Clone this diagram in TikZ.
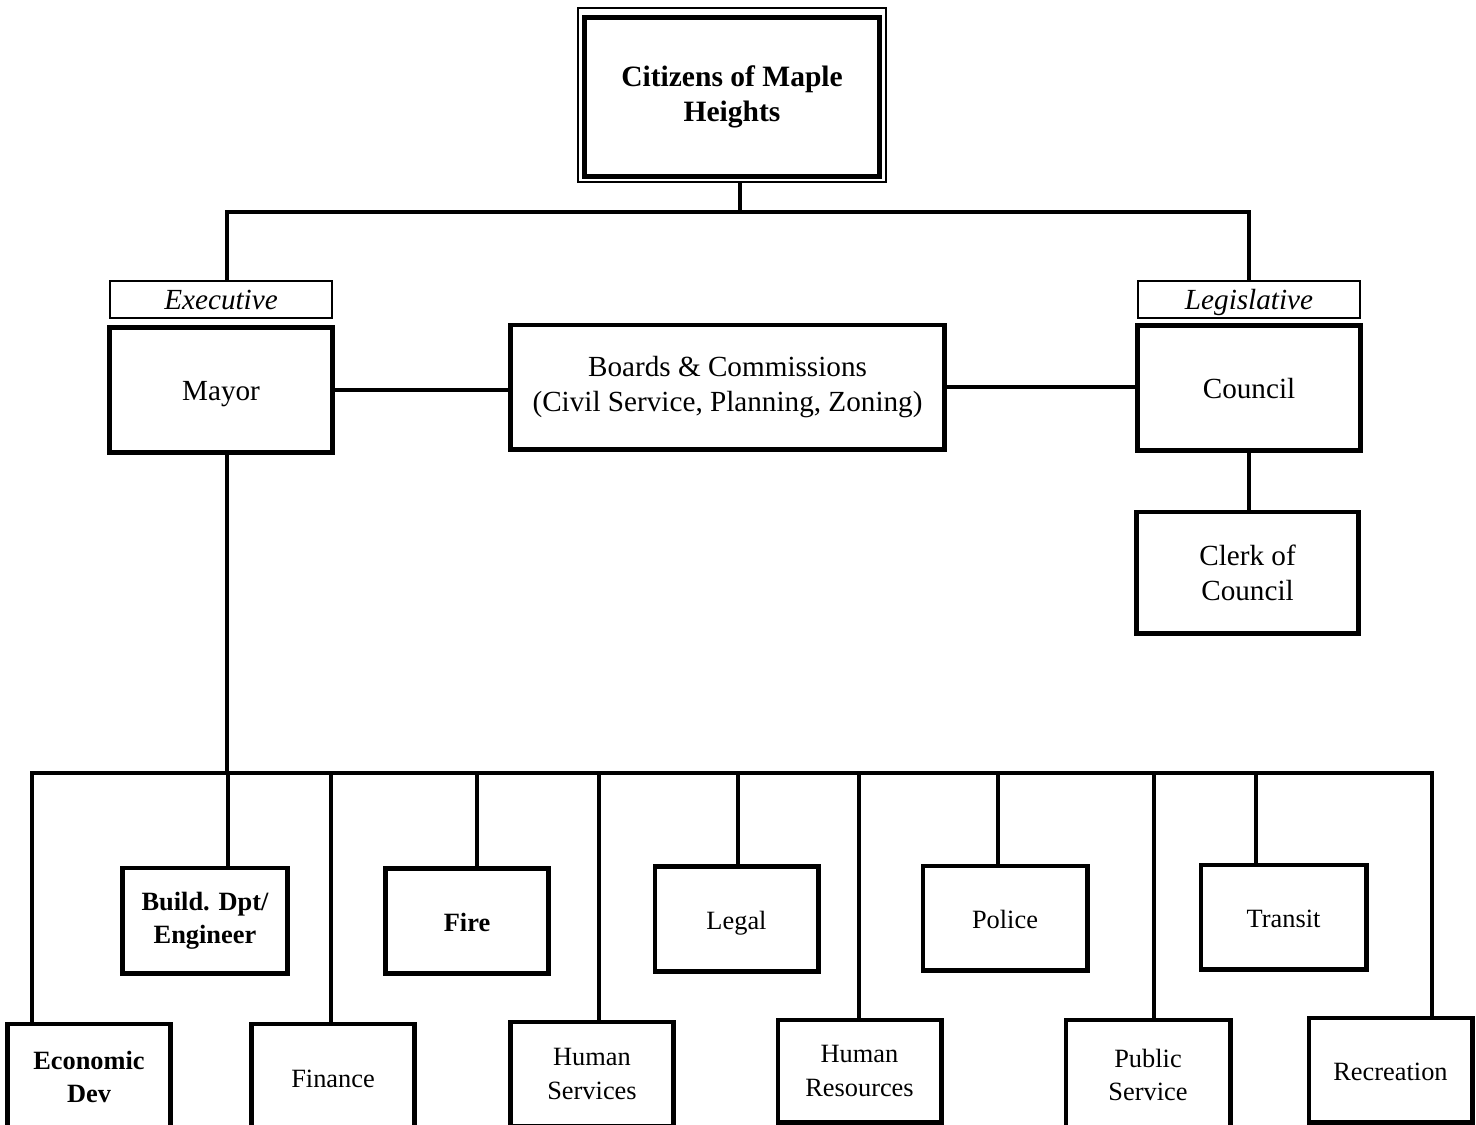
\documentclass[tikz,border=0pt]{standalone}
\usepackage{fontspec}
\setmainfont{Liberation Serif}
\usetikzlibrary{positioning}

\tikzset{
  box/.style={draw, line width=1.4pt, align=center, inner sep=2pt, font=\fontsize{8.3}{10}\selectfont},
  oneline/.style={text height=1.5ex, text depth=0.25ex},
  tag/.style={draw, line width=0.7pt, minimum width=2.22cm, minimum height=0.37cm, inner sep=0pt, oneline, font=\fontsize{8.3}{10}\selectfont\itshape},
  dept/.style={box, font=\fontsize{7.5}{9.4}\selectfont},
  deptbf/.style={box, font=\fontsize{7.5}{9.4}\selectfont\bfseries},
  link/.style={line width=1.1pt},
}

\begin{document}
\begin{tikzpicture}[x=0.01cm, y=-0.01cm]

  \path[fill=white, use as bounding box] (0,0) rectangle (1476,1124);

  % citizens
  \node[draw, line width=0.7pt, minimum width=3.08cm, minimum height=1.74cm] (citframe) at (732,95) {};
  \node[box, minimum width=2.94cm, minimum height=1.58cm, font=\fontsize{8.4}{10}\selectfont\bfseries] (citizens) at (732,97) {Citizens of Maple\\Heights};

  % branches
  \node[tag] (executive) at (221,299.5) {Executive};
  \node[box, oneline, minimum width=2.22cm, minimum height=1.25cm, below=0.06cm of executive] (mayor) {Mayor};
  \node[box, minimum width=4.33cm, minimum height=1.24cm] (boards) at (727.5,387) {Boards \& Commissions\\(Civil Service, Planning, Zoning)};
  \node[tag] (legislative) at (1249,299.5) {Legislative};
  \node[box, oneline, minimum width=2.22cm, minimum height=1.25cm, below=0.04cm of legislative] (council) {Council};
  \node[box, minimum width=2.21cm, minimum height=1.21cm] (clerk) at (1247.5,572.5) {Clerk of\\Council};

  % departments, upper row
  \node[deptbf, minimum width=1.64cm, minimum height=1.05cm] (build) at (205,920.5) {Build. Dpt/\\Engineer};
  \node[deptbf, oneline, minimum width=1.62cm, minimum height=1.05cm] (fire) at (467,921) {Fire};
  \node[dept, oneline, minimum width=1.63cm, minimum height=1.05cm] (legal) at (736.5,919) {Legal};
  \node[dept, oneline, minimum width=1.64cm, minimum height=1.04cm] (police) at (1005,918) {Police};
  \node[dept, oneline, minimum width=1.65cm, minimum height=1.04cm] (transit) at (1283.5,917) {Transit};

  % departments, lower row
  \node[deptbf, minimum width=1.62cm, minimum height=1.06cm] (econ) at (89,1077) {Economic\\Dev};
  \node[dept, oneline, minimum width=1.62cm, minimum height=1.06cm] (finance) at (333,1077) {Finance};
  \node[dept, minimum width=1.62cm, minimum height=1.04cm] (humserv) at (592,1074) {Human\\Services};
  \node[dept, minimum width=1.63cm, minimum height=1.02cm] (humres) at (859.5,1071) {Human\\Resources};
  \node[dept, minimum width=1.64cm, minimum height=1.10cm] (pubserv) at (1148,1075) {Public\\Service};
  \node[dept, oneline, minimum width=1.63cm, minimum height=1.04cm] (recreation) at (1390.5,1070) {Recreation};

  % connectors
  \coordinate (topbus) at (740,212);
  \draw[link] (citframe.south -| topbus) -- (topbus);
  \draw[link] ([xshift=0.06cm]executive.north) |- (topbus) -| (legislative.north);
  \draw[link] (mayor.east) -- (mayor.east -| boards.west);
  \draw[link] (boards.east) -- (boards.east -| council.west);
  \draw[link] (council.south) -- (council.south |- clerk.north);

  \coordinate (mayordrop) at (227,773);
  \coordinate (busW) at (32,773);
  \coordinate (busE) at (1432,773);
  \draw[link] (mayor.south -| mayordrop) -- (mayordrop);
  \draw[link] (econ.north -| busW) |- (busE) -- (busE |- recreation.north);

  \foreach \x/\dept in {228/build, 331/finance, 477/fire, 599/humserv, 738/legal, 859/humres, 998/police, 1154/pubserv, 1256/transit} {
    \coordinate (drop-\dept) at (\x,773);
    \draw[link] (drop-\dept) -- (drop-\dept |- \dept.north);
  }

\end{tikzpicture}
\end{document}
